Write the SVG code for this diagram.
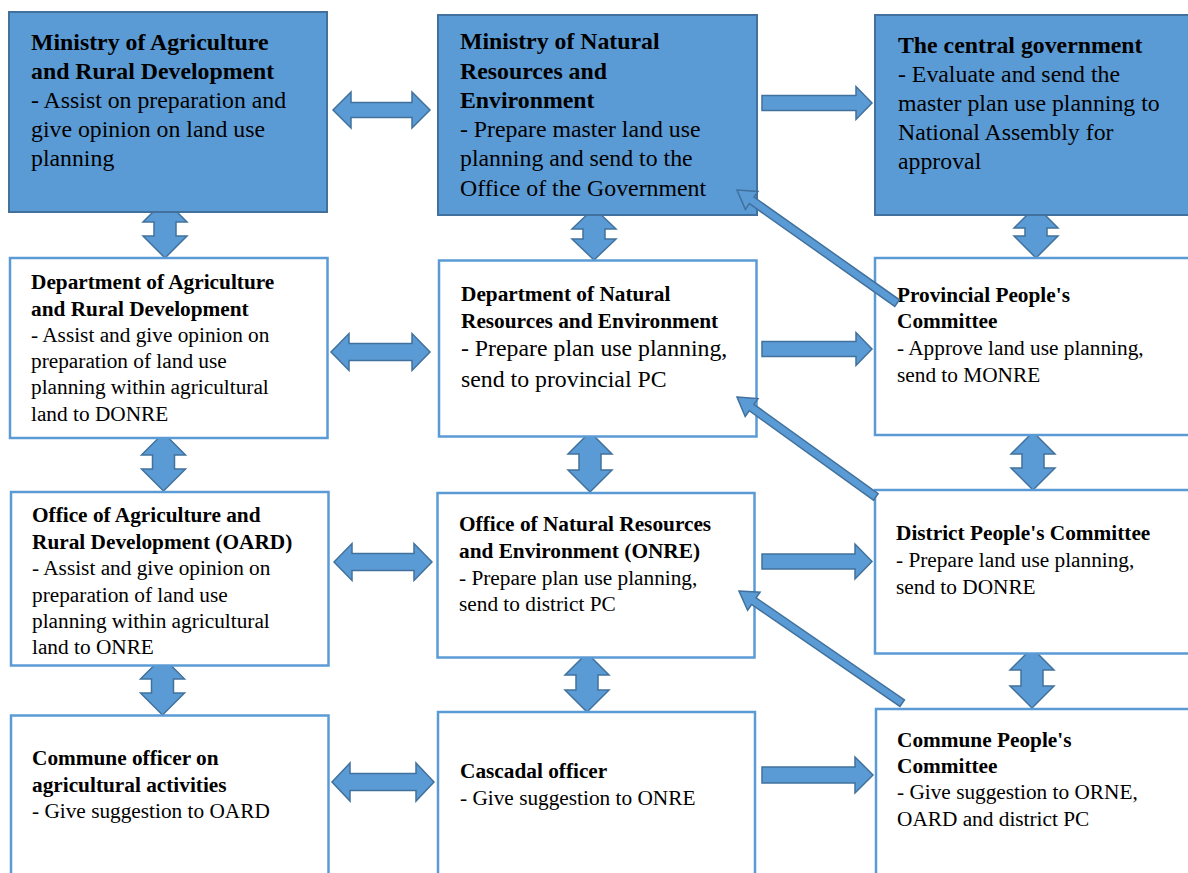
<svg xmlns="http://www.w3.org/2000/svg" width="1188" height="873" viewBox="0 0 1188 873" font-family="'Liberation Serif', 'Times New Roman', serif">
<style>
.bb{fill:#5B9BD5;stroke:#41719C;stroke-width:2}
.wb{fill:#FFFFFF;stroke:#5B9BD5;stroke-width:2.5}
.arr{fill:#5B9BD5;stroke:#41719C;stroke-width:1.5;stroke-linejoin:miter}
text{font-family:'Liberation Serif','Times New Roman',serif;fill:#000}
.L{font-size:23.8px}
.S{font-size:21.3px}
.b{font-weight:bold}
</style>
<rect width="1188" height="873" fill="#FFFFFF"/>
<g id="connectors">
  <polygon class="arr" points="333,110 351,92 351,102.5 412,102.5 412,92 430,110 412,128 412,117.5 351,117.5 351,128"/>
  <polygon class="arr" points="331,352 349,333.5 349,343.5 412,343.5 412,333.5 430,352 412,370.5 412,360.5 349,360.5 349,370.5"/>
  <polygon class="arr" points="334,562 352,543.5 352,553.5 414,553.5 414,543.5 432,562 414,580.5 414,570.5 352,570.5 352,580.5"/>
  <polygon class="arr" points="332,782 350,763 350,773.5 416,773.5 416,763 434,782 416,801 416,790.5 350,790.5 350,801"/>
  <polygon class="arr" points="165,200 187,222 176,222 176,236 187,236 165,258 143,236 154,236 154,222 143,222"/>
  <polygon class="arr" points="163.5,433 185.5,455 174.5,455 174.5,469 185.5,469 163.5,491 141.5,469 152.5,469 152.5,455 141.5,455"/>
  <polygon class="arr" points="162.5,657 184.5,679 173.5,679 173.5,693 184.5,693 162.5,715 140.5,693 151.5,693 151.5,679 140.5,679"/>
  <polygon class="arr" points="594,208 616,229 605,229 605,239 616,239 594,260 572,239 583,239 583,229 572,229"/>
  <polygon class="arr" points="590,432 612,454 601,454 601,470 612,470 590,492 568,470 579,470 579,454 568,454"/>
  <polygon class="arr" points="587,653 609,675 598,675 598,690 609,690 587,712 565,690 576,690 576,675 565,675"/>
  <polygon class="arr" points="1036,206 1058,228 1047,228 1047,236 1058,236 1036,258 1014,236 1025,236 1025,228 1014,228"/>
  <polygon class="arr" points="1033,432 1055,454 1044,454 1044,468 1055,468 1033,490 1011,468 1022,468 1022,454 1011,454"/>
  <polygon class="arr" points="1032,648 1054,670 1043,670 1043,686 1054,686 1032,708 1010,686 1021,686 1021,670 1010,670"/>
  <polygon class="arr" points="762,95.5 856,95.5 856,86.5 872,103 856,119.5 856,110.5 762,110.5"/>
  <polygon class="arr" points="762,341.5 856,341.5 856,332.5 872,349 856,365.5 856,356.5 762,356.5"/>
  <polygon class="arr" points="762,554 855,554 855,544 872,561.5 855,579 855,569 762,569"/>
  <polygon class="arr" points="762,767 855,767 855,757 873,775 855,793 855,783 762,783"/>
</g>
<g id="n1"><rect class="bb" x="9" y="12" width="318" height="200"/>
<text class="L b" x="31" y="50">Ministry of Agriculture</text>
<text class="L b" x="31" y="79">and Rural Development</text>
<text class="L" x="31" y="108">- Assist on preparation and</text>
<text class="L" x="31" y="137">give opinion on land use</text>
<text class="L" x="31" y="166">planning</text></g>
<g id="n2"><rect class="bb" x="438" y="15" width="319" height="200"/>
<text class="L b" x="460" y="49">Ministry of Natural</text>
<text class="L b" x="460" y="79">Resources and</text>
<text class="L b" x="460" y="108">Environment</text>
<text class="L" x="460" y="137">- Prepare master land use</text>
<text class="L" x="460" y="166">planning and send to the</text>
<text class="L" x="460" y="196">Office of the Government</text></g>
<g id="n3"><rect class="bb" x="875" y="15" width="320" height="200"/>
<text class="L b" x="898" y="53">The central government</text>
<text class="L" x="898" y="82">- Evaluate and send the</text>
<text class="L" x="898" y="111">master plan use planning to</text>
<text class="L" x="898" y="140">National Assembly for</text>
<text class="L" x="898" y="169">approval</text></g>
<g id="n4"><rect class="wb" x="10" y="258" width="317.5" height="180"/>
<text class="S b" x="31" y="289">Department of Agriculture</text>
<text class="S b" x="31" y="316">and Rural Development</text>
<text class="S" x="31" y="342">- Assist and give opinion on</text>
<text class="S" x="31" y="368">preparation of land use</text>
<text class="S" x="31" y="394">planning within agricultural</text>
<text class="S" x="31" y="421">land to DONRE</text></g>
<g id="n5"><rect class="wb" x="439" y="260.5" width="317.5" height="176"/>
<text class="S b" x="461" y="301">Department of Natural</text>
<text class="S b" x="461" y="328">Resources and Environment</text>
<text class="L" x="461" y="356">- Prepare plan use planning,</text>
<text class="L" x="461" y="387">send to provincial PC</text></g>
<g id="n6"><rect class="wb" x="875" y="258" width="320" height="177"/>
<text class="S b" x="897" y="302">Provincial People's</text>
<text class="S b" x="897" y="328">Committee</text>
<text class="S" x="897" y="355">- Approve land use planning,</text>
<text class="S" x="897" y="382">send to MONRE</text></g>
<g id="n7"><rect class="wb" x="11" y="492" width="317.5" height="173.5"/>
<text class="S b" x="32" y="522">Office of Agriculture and</text>
<text class="S b" x="32" y="549">Rural Development (OARD)</text>
<text class="S" x="32" y="575">- Assist and give opinion on</text>
<text class="S" x="32" y="602">preparation of land use</text>
<text class="S" x="32" y="628">planning within agricultural</text>
<text class="S" x="32" y="654">land to ONRE</text></g>
<g id="n8"><rect class="wb" x="437.5" y="493" width="317" height="164.5"/>
<text class="S b" x="459" y="531">Office of Natural Resources</text>
<text class="S b" x="459" y="558">and Environment (ONRE)</text>
<text class="S" x="459" y="585">- Prepare plan use planning,</text>
<text class="S" x="459" y="611">send to district PC</text></g>
<g id="n9"><rect class="wb" x="875" y="490" width="320" height="163.5"/>
<text class="S b" x="896" y="540">District People's Committee</text>
<text class="S" x="896" y="567">- Prepare land use planning,</text>
<text class="S" x="896" y="594">send to DONRE</text></g>
<g id="n10"><rect class="wb" x="11" y="715.5" width="317.5" height="170"/>
<text class="S b" x="32" y="765">Commune officer on</text>
<text class="S b" x="32" y="792">agricultural activities</text>
<text class="S" x="32" y="818">- Give suggestion to OARD</text></g>
<g id="n11"><rect class="wb" x="438" y="712" width="317" height="170"/>
<text class="S b" x="460" y="778">Cascadal officer</text>
<text class="S" x="460" y="805">- Give suggestion to ONRE</text></g>
<g id="n12"><rect class="wb" x="876" y="709" width="320" height="170"/>
<text class="S b" x="897" y="747">Commune People's</text>
<text class="S b" x="897" y="773">Committee</text>
<text class="S" x="897" y="799">- Give suggestion to ORNE,</text>
<text class="S" x="897" y="826">OARD and district PC</text></g>
<g id="diagonal-connectors">
  <polygon class="arr" transform="translate(737,190) rotate(35.23)" points="0,0 18,-11 18,-4 196,-4 196,4 18,4 18,11"/>
  <polygon class="arr" transform="translate(737,397) rotate(35.73)" points="0,0 18,-11 18,-4 171,-4 171,4 18,4 18,11"/>
  <polygon class="arr" transform="translate(739,591) rotate(34.49)" points="0,0 18,-11 18,-4 198,-4 198,4 18,4 18,11"/>
</g>
</svg>
